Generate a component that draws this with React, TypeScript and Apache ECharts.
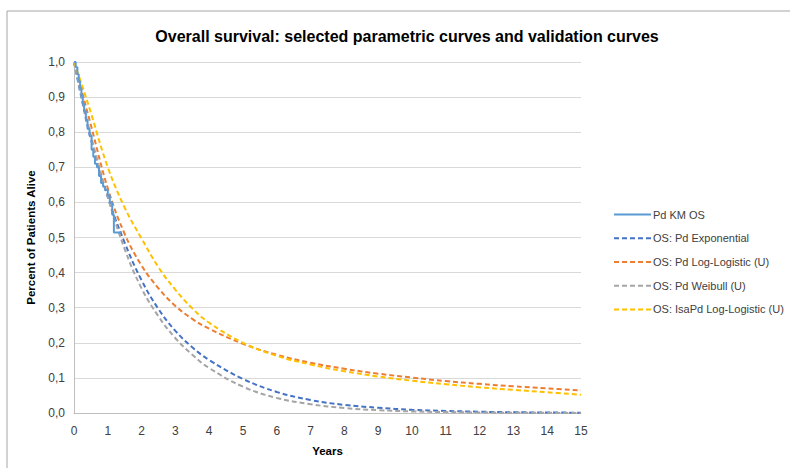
import React, { useEffect, useRef } from "react";
import * as echarts from "echarts";

// Kaplan-Meier observed survival (years, proportion alive)
const kmYears = [0, 0.05, 0.1, 0.14, 0.18, 0.22, 0.26, 0.3, 0.35, 0.4, 0.46, 0.52, 0.57, 0.62, 0.68, 0.74, 0.8, 0.86, 0.92, 1.0, 1.06, 1.13, 1.18, 1.41];
const kmSurvival = [1.0, 0.985, 0.965, 0.945, 0.925, 0.905, 0.88, 0.86, 0.835, 0.81, 0.79, 0.75, 0.73, 0.71, 0.7, 0.675, 0.655, 0.645, 0.635, 0.62, 0.6, 0.565, 0.514, 0.514];

// Time grid for the parametric curves
const years = [0, 0.25, 0.5, 1, 1.5, 2, 2.5, 3, 3.5, 4, 5, 6, 7, 8, 9, 10, 11, 12, 13, 14, 15];

const pdExponential = [1.0, 0.885, 0.78, 0.615, 0.485, 0.378, 0.296, 0.234, 0.187, 0.151, 0.097, 0.06, 0.037, 0.023, 0.015, 0.009, 0.006, 0.0036, 0.0022, 0.0014, 0.0009];
const pdLogLogistic = [1.0, 0.91, 0.82, 0.64, 0.51, 0.42, 0.355, 0.305, 0.268, 0.24, 0.197, 0.166, 0.143, 0.126, 0.112, 0.101, 0.091, 0.083, 0.076, 0.07, 0.064];
const pdWeibull = [1.0, 0.89, 0.79, 0.615, 0.467, 0.355, 0.275, 0.213, 0.166, 0.128, 0.075, 0.043, 0.025, 0.014, 0.008, 0.0045, 0.0025, 0.0014, 0.0008, 0.0004, 0.0002];
const isaPdLogLogistic = [1.0, 0.93, 0.855, 0.7, 0.585, 0.497, 0.415, 0.351, 0.298, 0.257, 0.2, 0.163, 0.138, 0.119, 0.104, 0.092, 0.082, 0.073, 0.066, 0.059, 0.052];

const seriesNames = [
  "Pd KM OS",
  "OS: Pd Exponential",
  "OS: Pd Log-Logistic (U)",
  "OS: Pd Weibull (U)",
  "OS: IsaPd Log-Logistic (U)",
];

const pair = (xs: number[], ys: number[]) => xs.map((x, i) => [x, ys[i]]);

const FONT = "'Liberation Sans', Arial, sans-serif";
const DASH = [5, 3];

export default function App() {
  const ref = useRef<HTMLDivElement>(null);

  useEffect(() => {
    if (!ref.current) return;
    const chart = echarts.init(ref.current, null, { renderer: "svg" });

    const dashed = (name: string, color: string, ys: number[]) => ({
      name,
      type: "line",
      data: pair(years, ys),
      smooth: 0.4,
      symbol: "none",
      lineStyle: { color, width: 2, type: DASH },
      itemStyle: { color },
    });

    chart.setOption({
      animation: false,
      backgroundColor: "#ffffff",
      textStyle: { fontFamily: FONT },
      title: {
        text: "Overall survival: selected parametric curves and validation curves",
        left: 402,
        textAlign: "center",
        top: 23,
        textStyle: { fontFamily: FONT, fontSize: 16, fontWeight: "bold", color: "#000000" },
      },
      graphic: [
        {
          type: "rect",
          shape: { x: 7, y: 11, width: 800, height: 480 },
          style: { fill: "none", stroke: "#A6A6A6", lineWidth: 1 },
          silent: true,
        },
      ],
      legend: {
        orient: "vertical",
        left: 608,
        top: 204,
        itemWidth: 37,
        itemHeight: 14,
        itemGap: 12.5,
        data: seriesNames,
        itemStyle: { opacity: 0 },
        textStyle: { fontFamily: FONT, fontSize: 11, color: "#404040", padding: [0, 0, 0, -3] },
      },
      grid: { left: 74, right: 209, top: 62, bottom: 55, containLabel: false },
      xAxis: {
        type: "value",
        min: 0,
        max: 15,
        interval: 1,
        name: "Years",
        nameLocation: "middle",
        nameGap: 32,
        nameTextStyle: { fontFamily: FONT, fontSize: 11.5, fontWeight: "bold", color: "#000000" },
        axisLine: { show: true, lineStyle: { color: "#BFBFBF", width: 1 } },
        axisTick: { show: false },
        splitLine: { show: false },
        axisLabel: { fontFamily: FONT, fontSize: 12, color: "#404040", margin: 12 },
      },
      yAxis: {
        type: "value",
        min: 0,
        max: 1,
        interval: 0.1,
        name: "Percent of Patients Alive",
        nameLocation: "middle",
        nameGap: 35,
        nameTextStyle: { fontFamily: FONT, fontSize: 11.5, fontWeight: "bold", color: "#000000" },
        axisLine: { show: true, lineStyle: { color: "#BFBFBF", width: 1 } },
        axisTick: { show: false },
        splitLine: { show: true, lineStyle: { color: "#D9D9D9", width: 1 } },
        axisLabel: {
          fontFamily: FONT,
          fontSize: 12,
          color: "#404040",
          margin: 9,
          formatter: (v: number) => v.toFixed(1).replace(".", ","),
        },
      },
      series: [
        {
          name: seriesNames[0],
          type: "line",
          data: pair(kmYears, kmSurvival),
          step: "end",
          symbol: "none",
          lineStyle: { color: "#5B9BD5", width: 2 },
          itemStyle: { color: "#5B9BD5" },
          z: 5,
        },
        dashed(seriesNames[1], "#4472C4", pdExponential),
        dashed(seriesNames[2], "#ED7D31", pdLogLogistic),
        dashed(seriesNames[3], "#A5A5A5", pdWeibull),
        dashed(seriesNames[4], "#FFC000", isaPdLogLogistic),
      ],
    });

    return () => chart.dispose();
  }, []);

  return (
    <div
      ref={ref}
      style={{ position: "fixed", left: 0, top: 0, width: 790, height: 468 }}
    />
  );
}
